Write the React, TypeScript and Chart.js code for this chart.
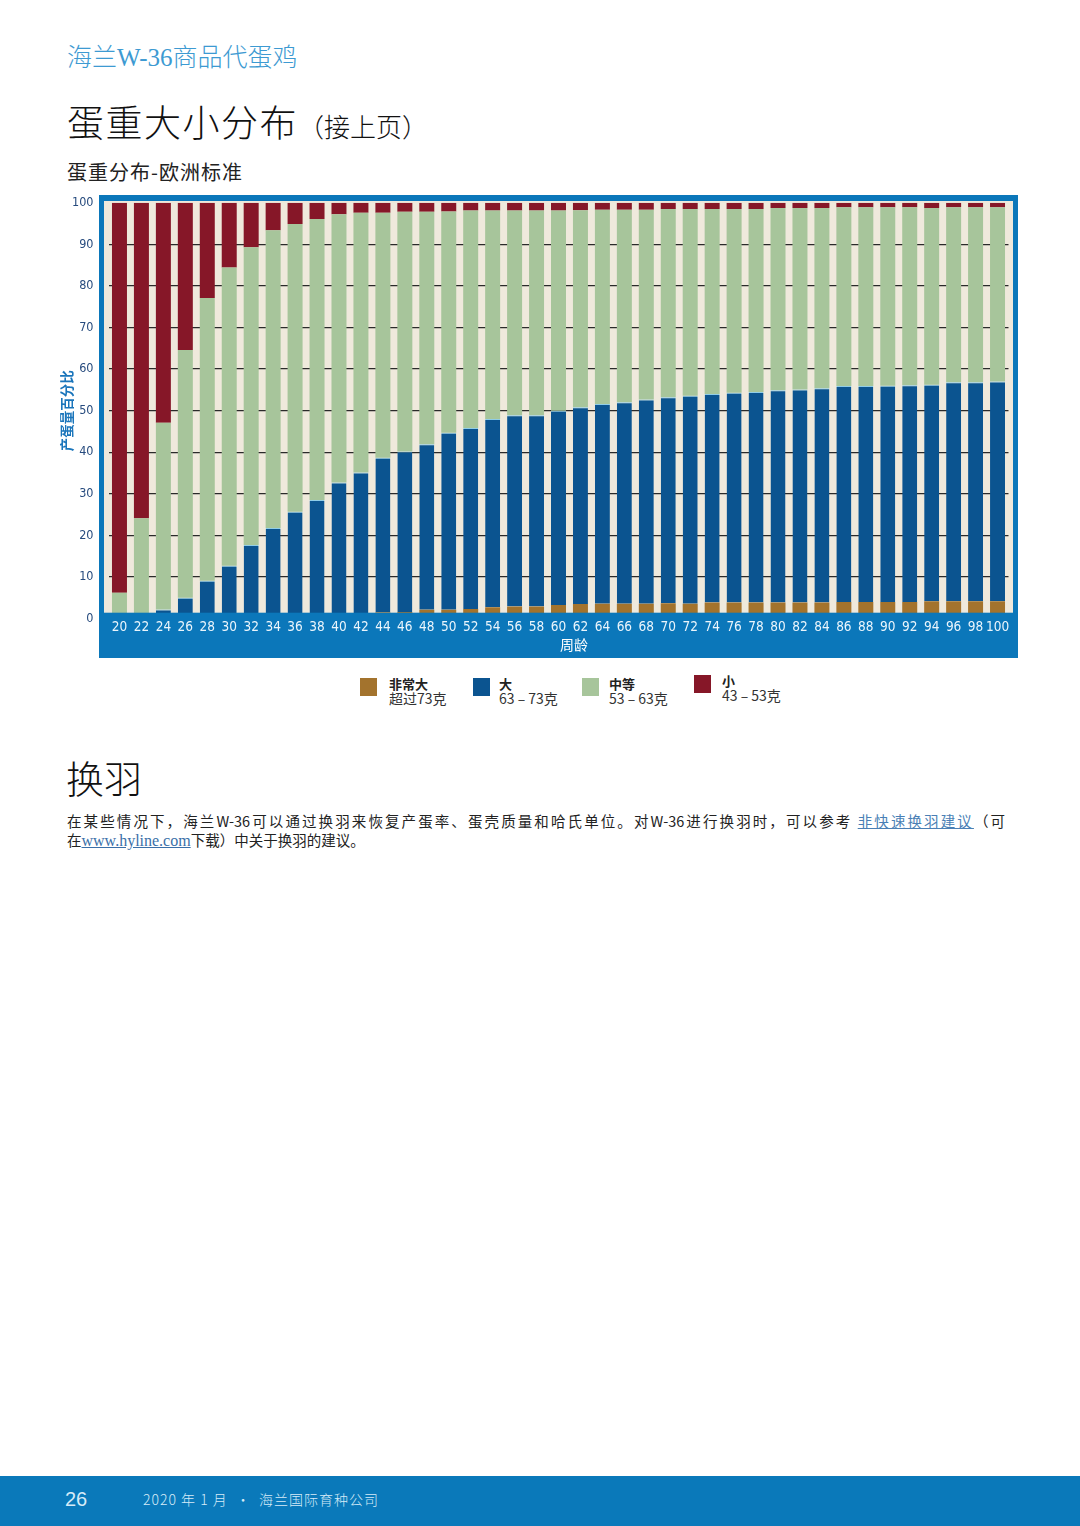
import React, { useEffect, useRef } from "react";
import { Chart, registerables } from "chart.js";

Chart.register(...registerables);

// ---- data (percent of production by egg size, stacked bottom -> top) ----
const weeks = [
  "20", "22", "24", "26", "28", "30", "32", "34", "36", "38", "40", "42", "44", "46",
  "48", "50", "52", "54", "56", "58", "60", "62", "64", "66", "68", "70", "72", "74",
  "76", "78", "80", "82", "84", "86", "88", "90", "92", "94", "96", "98", "100",
];
// 非常大 超过73克
const veryLarge = [
  0, 0, 0, 0, 0, 0, 0, 0, 0, 0, 0, 0, 1.5, 1.6,
  2.1, 2.1, 2.3, 2.7, 2.9, 2.9, 3.3, 3.5, 3.6, 3.6, 3.6, 3.7, 3.6, 3.9,
  3.9, 3.9, 3.9, 3.9, 3.9, 4.0, 4.0, 4.0, 4.0, 4.2, 4.2, 4.2, 4.2,
];
// 大 63 - 73克
const large = [
  0, 0, 2.2, 5.0, 9.1, 12.7, 17.7, 21.8, 25.7, 28.5, 32.7, 35.1, 37.2, 38.6,
  39.8, 42.6, 43.5, 45.3, 46.0, 46.0, 46.7, 47.3, 48.0, 48.4, 49.1, 49.5, 50.0, 50.1,
  50.4, 50.6, 51.0, 51.2, 51.5, 51.9, 51.9, 52.0, 52.1, 52.0, 52.6, 52.6, 52.8,
];
// 中等 53 - 63克
const medium = [
  6.2, 24.1, 44.9, 59.6, 68.0, 71.7, 71.6, 71.6, 69.2, 67.6, 64.5, 62.5, 58.9, 57.6,
  55.9, 53.2, 52.3, 50.1, 49.2, 49.2, 48.1, 47.4, 46.7, 46.3, 45.6, 45.3, 44.9, 44.5,
  44.2, 44.0, 43.8, 43.6, 43.3, 43.0, 43.0, 42.9, 42.8, 42.5, 42.1, 42.1, 41.9,
];
// 小 43 - 53克
const small = [
  93.8, 75.9, 52.9, 35.4, 22.9, 15.6, 10.7, 6.6, 5.1, 3.9, 2.8, 2.4, 2.4, 2.2,
  2.2, 2.1, 1.9, 1.9, 1.9, 1.9, 1.9, 1.8, 1.7, 1.7, 1.7, 1.5, 1.5, 1.5,
  1.5, 1.5, 1.3, 1.3, 1.3, 1.1, 1.1, 1.1, 1.1, 1.3, 1.1, 1.1, 1.1,
];
const yMin = 0;
const yMax = 100;
const yStep = 10;

const seriesNames = ["非常大", "大", "中等", "小"];
const seriesRanges = ["超过73克", "63 – 73克", "53 – 63克", "43 – 53克"];

// ---- styles ----
const C_BROWN = "#a3732d";
const C_BLUE = "#0b5490";
const C_GREEN = "#a7c59b";
const C_RED = "#861728";
const FRAME = "#0b77ba";
const BEIGE = "#efe9dc";
const NARROW =
  "'DejaVu Sans Condensed', 'Liberation Sans Narrow', 'Arial Narrow', 'Roboto Condensed', 'Liberation Sans', sans-serif";
const CJK = "'Noto Sans CJK SC', sans-serif";
const SERIF_CJK = "'Liberation Serif', 'Noto Sans CJK SC', serif";

const bandPlugin = {
  id: "xband",
  afterDatasetsDraw(chart: any) {
    const { ctx, chartArea } = chart;
    ctx.save();
    ctx.fillStyle = FRAME;
    const top = chartArea.bottom - 5.9;
    ctx.fillRect(chartArea.left - 9.5, top, chartArea.right - chartArea.left + 19, 468 - top);
    ctx.restore();
  },
};

function EggChart() {
  const ref = useRef<HTMLCanvasElement>(null);
  useEffect(() => {
    if (!ref.current) return;
    const colors = [C_BROWN, C_BLUE, C_GREEN, C_RED];
    const values = [veryLarge, large, medium, small];
    const chart = new Chart(ref.current, {
      type: "bar",
      data: {
        labels: weeks,
        datasets: values.map((d, i) => ({
          label: seriesNames[i],
          data: d,
          backgroundColor: colors[i],
          borderColor: i === 1 ? "#8fcde8" : "rgba(0,0,0,0)",
          borderWidth: (c: any) => (i === 1 && c.raw > 0 ? { top: 1, left: 0, right: 0, bottom: 0 } : 0),
          borderSkipped: false,
          barPercentage: 0.683,
          categoryPercentage: 1,
        })),
      },
      options: {
        responsive: false,
        animation: false,
        devicePixelRatio: 1,
        layout: { padding: { left: 0, right: 21.5, top: 12.7, bottom: 0 } },
        plugins: { legend: { display: false }, tooltip: { enabled: false } },
        scales: {
          x: {
            stacked: true,
            grid: { display: false, drawTicks: false, z: 2 },
            border: { display: false, z: 2 },
            ticks: {
              z: 2,
              color: "#eaf5fc",
              font: { family: NARROW, size: 13.5 },
              padding: 1,
              maxRotation: 0,
              autoSkip: false,
            },
            title: { display: false },
            afterFit: (s: any) => {
              s.height = 41.4;
            },
          },
          y: {
            stacked: true,
            min: yMin,
            max: yMax,
            grid: {
              color: (c: any) =>
                c.tick && (c.tick.value === yMin || c.tick.value === yMax) ? "rgba(0,0,0,0)" : "#2a2a2a",
              lineWidth: 1.2,
              drawTicks: false,
            },
            border: { display: false },
            ticks: {
              stepSize: yStep,
              color: "#274b7e",
              font: { family: NARROW, size: 12.5 },
              padding: 15,
            },
            title: {
              display: true,
              text: "产蛋量百分比",
              color: "#1a75bb",
              font: { family: CJK, size: 13.5, weight: "bold" },
              padding: { top: 18.4, bottom: 0 },
            },
            afterFit: (s: any) => {
              s.width = 68.5;
              s.paddingTop = 7;
              s.paddingBottom = 7;
            },
          },
        },
      },
      plugins: [bandPlugin],
    } as any);
    return () => chart.destroy();
  }, []);
  return (
    <canvas
      ref={ref}
      width={990}
      height={470}
      style={{ position: "absolute", left: 40, top: 190, width: 990, height: 470 }}
    />
  );
}

const legendColors = [C_BROWN, C_BLUE, C_GREEN, C_RED];
const legendSquareX = [360, 473, 582, 694];
const legendTextX = [389, 499, 609, 722];
const legendDy = [0, 0, 0, -3];

export default function App() {
  return (
    <div
      style={{
        position: "absolute",
        left: 0,
        top: 0,
        width: 1080,
        height: 1526,
        background: "#ffffff",
        overflow: "hidden",
        fontFamily: CJK,
      }}
    >
      <div
        style={{
          position: "absolute",
          left: 67,
          top: 45,
          fontSize: 25,
          lineHeight: "25px",
          color: "#3d9ad2",
          fontFamily: SERIF_CJK,
          fontWeight: 300,
          whiteSpace: "nowrap",
        }}
      >
        海兰W-36商品代蛋鸡
      </div>
      <div
        style={{
          position: "absolute",
          left: 67,
          top: 103,
          display: "flex",
          alignItems: "baseline",
          whiteSpace: "nowrap",
          color: "#111",
          fontWeight: 300,
        }}
      >
        <span style={{ fontSize: 37, lineHeight: "37px", letterSpacing: 1.5 }}>蛋重大小分布</span>
        <span style={{ fontSize: 26, lineHeight: "26px", marginLeft: 0 }}>（接上页）</span>
      </div>
      <div
        style={{
          position: "absolute",
          left: 67,
          top: 161,
          fontSize: 20,
          lineHeight: "21px",
          letterSpacing: 1,
          color: "#222",
          whiteSpace: "nowrap",
        }}
      >
        蛋重分布-欧洲标准
      </div>

      {/* chart frame */}
      <div style={{ position: "absolute", left: 99, top: 195, width: 919, height: 463, background: FRAME }} />
      <div style={{ position: "absolute", left: 104, top: 201, width: 909, height: 412, background: BEIGE }} />
      <EggChart />
      <div
        style={{
          position: "absolute",
          left: 560,
          top: 636,
          fontSize: 14,
          lineHeight: "16px",
          color: "#ffffff",
          whiteSpace: "nowrap",
        }}
      >
        周龄
      </div>

      {/* legend */}
      {seriesNames.map((n, i) => (
        <React.Fragment key={n}>
          <div
            style={{
              position: "absolute",
              left: legendSquareX[i],
              top: 678 + legendDy[i],
              width: 17,
              height: 18,
              background: legendColors[i],
            }}
          />
          <div
            style={{
              position: "absolute",
              left: legendTextX[i],
              top: 676 + legendDy[i],
              fontSize: 13,
              lineHeight: "15px",
              color: "#222",
              whiteSpace: "nowrap",
            }}
          >
            <div style={{ fontWeight: 700 }}>{n}</div>
            <div style={{ fontSize: 14, color: "#333", fontWeight: 400 }}>{seriesRanges[i]}</div>
          </div>
        </React.Fragment>
      ))}

      {/* moulting section */}
      <div
        style={{
          position: "absolute",
          left: 66,
          top: 757,
          fontSize: 38,
          lineHeight: "40px",
          color: "#111",
          fontWeight: 300,
          whiteSpace: "nowrap",
        }}
      >
        换羽
      </div>
      <div
        style={{
          position: "absolute",
          left: 67,
          top: 811,
          width: 938,
          fontSize: 14.5,
          lineHeight: "19px",
          color: "#222",
          textAlign: "justify",
          textAlignLast: "justify" as any,
          whiteSpace: "nowrap",
        }}
      >
        在某些情况下，海兰W-36可以通过换羽来恢复产蛋率、蛋壳质量和哈氏单位。对W-36进行换羽时，可以参考{" "}
        <span style={{ color: "#4a7fb5", textDecoration: "underline" }}>非快速换羽建议</span>（可
      </div>
      <div
        style={{
          position: "absolute",
          left: 67,
          top: 830,
          fontSize: 14.5,
          lineHeight: "19px",
          color: "#222",
          whiteSpace: "nowrap",
        }}
      >
        在
        <span style={{ color: "#3a6fa8", textDecoration: "underline", fontFamily: SERIF_CJK, fontSize: 16 }}>
          www.hyline.com
        </span>
        下载）中关于换羽的建议。
      </div>

      {/* footer */}
      <div style={{ position: "absolute", left: 0, top: 1476, width: 1080, height: 50, background: "#0a79ba" }} />
      <div
        style={{
          position: "absolute",
          left: 65,
          top: 1488,
          fontSize: 20,
          lineHeight: "22px",
          color: "#d6ebf8",
          fontFamily: "'Liberation Sans', sans-serif",
        }}
      >
        26
      </div>
      <div
        style={{
          position: "absolute",
          left: 143,
          top: 1491,
          fontSize: 14,
          lineHeight: "17px",
          color: "#d6ebf8",
          letterSpacing: 1,
          whiteSpace: "pre",
          fontFamily: CJK,
          fontWeight: 300,
        }}
      >
        {"2020 年 1 月  •  海兰国际育种公司"}
      </div>
    </div>
  );
}
